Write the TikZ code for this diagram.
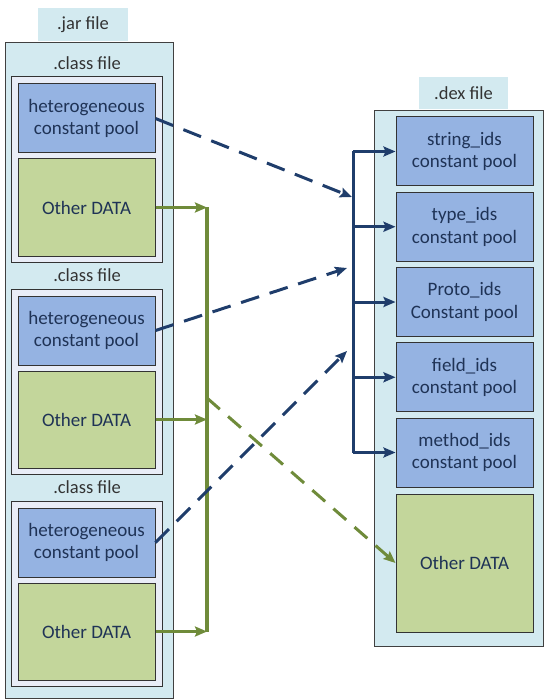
\documentclass[tikz,border=0pt]{standalone}
\usepackage{fontspec}
\setmainfont{Carlito}
\usetikzlibrary{arrows.meta}
\usepackage{xcolor}
\definecolor{bgblue}{HTML}{D3EAF0}
\definecolor{lavender}{HTML}{E9EDF7}
\definecolor{poolblue}{HTML}{95B3E2}
\definecolor{datagreen}{HTML}{C3D69B}
\definecolor{txtblue}{HTML}{1F3356}
\definecolor{linkblue}{HTML}{1F3D6B}
\definecolor{linkgreen}{HTML}{6F8B3A}

\begin{document}
\begin{tikzpicture}[x=1pt,y=-1pt]
    \tikzset{
        filebox/.style={rectangle,draw=black!75,line width=1pt,fill=bgblue,inner sep=0pt},
        classbox/.style={rectangle,draw=black!80,line width=1pt,fill=lavender,
            minimum width=151pt,minimum height=185pt,inner sep=0pt},
        poolbox/.style={rectangle,draw=black!80,line width=1pt,fill=poolblue,text=txtblue,
            minimum width=137pt,minimum height=69pt,inner sep=0pt,align=center,
            font=\fontsize{19}{22.5}\selectfont},
        databox/.style={poolbox,fill=datagreen},
        tag/.style={fill=bgblue,text=black!80,inner sep=0pt,font=\fontsize{18.5}{22}\selectfont},
        bluelink/.style={draw=linkblue,line width=3pt},
        greenlink/.style={draw=linkgreen,line width=3.5pt},
        bluedash/.style={bluelink,dash pattern=on 19pt off 11pt},
        greendash/.style={draw=linkgreen,line width=3pt,dash pattern=on 17pt off 11pt},
        tip/.style={-{Stealth[length=12pt,width=10pt,inset=2pt]}}
    }
    \useasboundingbox (0,0) rectangle (550,700);
    % .jar file
    \node[tag,minimum width=90pt,minimum height=33pt] (jartag) at (83,24.5) {.jar file};
    \node[filebox,minimum width=168pt,minimum height=655pt] (jar) at (89,370.5) {};
    \foreach \i/\y in {1/0,2/212,3/424} {
        \node[tag,fill=none] (classtag\i) at (87,63+\y) {.class file};
        \node[classbox] (class\i) at (86.5,169.5+\y) {};
        \node[poolbox] (hetero\i) at (86.5,118.5+\y) {heterogeneous\\constant pool};
        \node[databox,minimum height=97pt] (data\i) at (86.5,207.5+\y) {Other DATA};
    }
    % .dex file
    \node[tag,minimum width=89pt,minimum height=32pt] (dextag) at (463.5,93) {.dex file};
    \node[filebox,minimum width=169pt,minimum height=535pt] (dex) at (458.5,378.5) {};
    \foreach \k/\name in {1/string\_ids\\constant pool,2/type\_ids\\constant pool,
            3/Proto\_ids\\Constant pool,4/field\_ids\\constant pool,5/method\_ids\\constant pool}
        \node[poolbox] (pool\k) at (464.5,151.5+75.25*\k-75.25) {\name};
    \node[databox,minimum height=138pt] (dexdata) at (464.5,563) {Other DATA};
    % buses
    \coordinate (gbus) at (207,0);
    \coordinate (bbus) at (353,0);
    \coordinate (gsplit) at (207,398);
    \coordinate (end1) at (352,197);
    \coordinate (end2) at (347,268);
    \coordinate (end3) at (347,351);
    \draw[greenlink] (data1.east -| gbus) -- (data3.east -| gbus);
    \foreach \i in {1,2,3}
        \draw[greenlink,tip] (data\i.east) -- (data\i.east -| gbus);
    \draw[greendash,tip] (gsplit) -- (dexdata.west);
    \draw[bluelink] (pool1.west -| bbus) -- (pool5.west -| bbus);
    \foreach \k in {1,...,5}
        \draw[bluelink,tip] (pool\k.west -| bbus) -- (pool\k.west);
    \foreach \i in {1,2,3}
        \draw[bluedash,tip] (hetero\i.east) -- (end\i);
\end{tikzpicture}
\end{document}
